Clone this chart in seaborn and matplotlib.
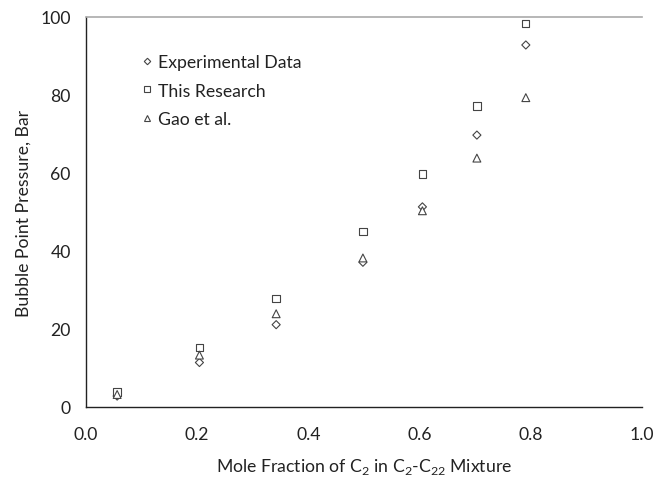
import matplotlib
matplotlib.use("Agg")
import matplotlib.pyplot as plt
import seaborn as sns
import pandas as pd
import numpy as np

mole_fraction = [0.056, 0.204, 0.342, 0.498, 0.605, 0.703, 0.791]
experimental = [2.8, 11.4, 21.1, 37.1, 51.3, 69.7, 92.8]
this_research = [3.8, 15.3, 27.8, 45.0, 59.7, 77.2, 98.3]
gao_et_al = [3.2, 13.3, 23.9, 38.2, 50.3, 63.8, 79.3]
series_names = ["Experimental Data", "This Research", "Gao et al."]
x_ticks = [0.0, 0.2, 0.4, 0.6, 0.8, 1.0]
y_ticks = [0, 20, 40, 60, 80, 100]

rows = []
for name, vals in zip(series_names, [experimental, this_research, gao_et_al]):
    for x, y in zip(mole_fraction, vals):
        rows.append({"x": x, "y": y, "series": name})
df = pd.DataFrame(rows)

sns.set_style("white")
plt.rcParams['font.family'] = ['Lato', 'DejaVu Sans']
plt.rcParams['mathtext.fontset'] = 'custom'
plt.rcParams['mathtext.rm'] = 'Lato'

FS = 12.7
TXT = '#222222'

fig = plt.figure(figsize=(6.54, 4.81), dpi=100)
ax = fig.add_axes([0.1315, 0.1518, 0.8502, 0.811])

sizes_map = {"Experimental Data": 17, "This Research": 28, "Gao et al.": 32}
sns.scatterplot(data=df, x="x", y="y", style="series", hue="series",
                palette=["white", "white", "white"],
                markers={"Experimental Data": "D", "This Research": "s", "Gao et al.": "^"},
                s=28, edgecolor="#444444", linewidth=0.8, ax=ax, legend=True)
coll = ax.collections[0]
coll.set_sizes(np.array([sizes_map[s] for s in df["series"]]))

ax.set_xlim(0, 1.0)
ax.set_ylim(0, 100)
ax.set_xticks(x_ticks)
ax.set_yticks(y_ticks)
ax.set_xticklabels([f"{t:.1f}" for t in x_ticks])
ax.set_yticklabels([str(t) for t in y_ticks])
ax.tick_params(axis='both', labelsize=FS, colors=TXT, direction='in', length=5, width=0.8)
ax.tick_params(axis='x', pad=14)
ax.tick_params(axis='y', pad=11)
ax.set_xlabel(r"Mole Fraction of C$_2$ in C$_2$-C$_{22}$ Mixture", fontsize=FS, color=TXT, labelpad=10)
ax.set_ylabel("Bubble Point Pressure, Bar", fontsize=FS, color=TXT, labelpad=6)

for side in ["left", "bottom"]:
    ax.spines[side].set_color(TXT)
    ax.spines[side].set_linewidth(1.0)
ax.spines["top"].set_color("#aaaaaa")
ax.spines["top"].set_linewidth(1.2)
ax.spines["right"].set_visible(False)

handles, labels = ax.get_legend_handles_labels()
hsize = {"Experimental Data": 4.1, "This Research": 5.3, "Gao et al.": 5.6}
for h, l in zip(handles, labels):
    h.set_markersize(hsize[l] * 0.8)
leg = ax.legend(handles, labels, loc="upper left", bbox_to_anchor=(0.066, 0.945),
                frameon=False, fontsize=FS, labelspacing=0.7, handletextpad=0.1,
                handlelength=1.0)
for t in leg.get_texts():
    t.set_color(TXT)

fig.savefig("out.png", dpi=100)
